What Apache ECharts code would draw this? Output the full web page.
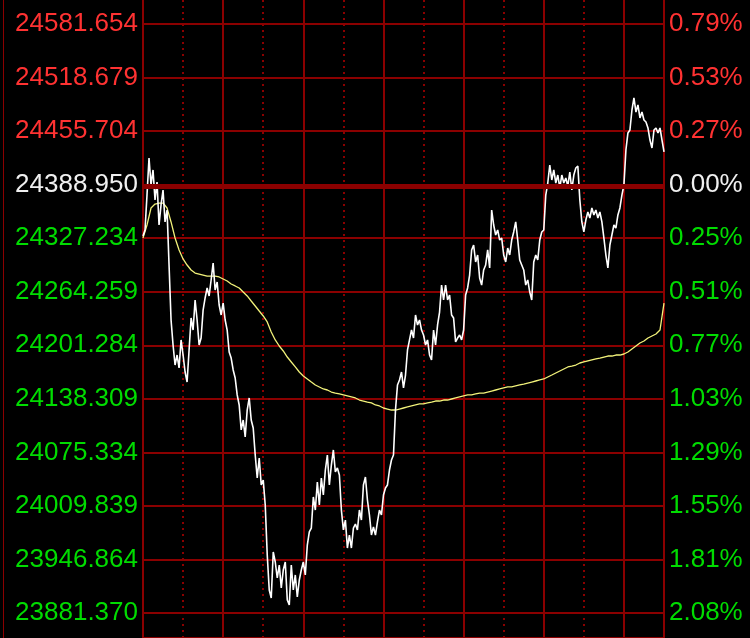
<!DOCTYPE html>
<html>
<head>
<meta charset="utf-8">
<script src="https://cdn.jsdelivr.net/npm/echarts@6/dist/echarts.min.js"></script>
<style>
html,body{margin:0;padding:0;background:#000;}
#wrap{position:relative;width:750px;height:638px;}
#chart{width:750px;height:638px;}
#edge{position:absolute;left:3px;top:0;width:1px;height:638px;background:#8b0000;}
</style>
</head>
<body>
<div id="wrap"><div id="chart"></div><div id="edge"></div></div>
<script>
// ---- data ----
const baseValue = 24388.950;
const axisMin = 23881.370;
const axisMax = 24581.654;
const leftTickLabels = ['24581.654','24518.679','24455.704','24388.950','24327.234','24264.259','24201.284','24138.309','24075.334','24009.839','23946.864','23881.370'];
const rightTickLabels = ['0.79%','0.53%','0.27%','0.00%','0.25%','0.51%','0.77%','1.03%','1.29%','1.55%','1.81%','2.08%'];

// price, sampled every 1.5 minutes from 09:30 to 16:00
const priceValues = [
24329.6,24336.7,24378.3,24422.3,24390.2,24408.1,24372.4,24393.8,24342.7,24366.5,
24384.3,24346.3,24360.5,24295.1,24229.7,24200.0,24176.2,24188.1,24172.7,24206.0,
24188.1,24167.9,24156.0,24194.1,24232.1,24217.8,24253.5,24229.7,24200.0,24208.3,
24241.6,24255.9,24267.8,24258.3,24277.3,24297.5,24265.4,24274.9,24247.6,24235.7,
24249.9,24229.7,24217.8,24191.7,24184.5,24170.3,24160.8,24140.6,24128.7,24099.0,
24110.8,24090.6,24122.7,24137.0,24110.8,24101.3,24069.2,24041.9,24065.7,24033.6,
24039.5,24009.8,23950.3,23908.7,23899.2,23953.9,23942.0,23923.0,23938.4,23911.1,
23932.5,23942.0,23896.8,23890.9,23938.4,23908.7,23926.6,23900.4,23920.6,23932.5,
23942.0,23926.6,23962.2,23977.7,23982.4,24019.3,24003.8,24037.1,24009.8,24041.9,
24021.7,24051.4,24069.2,24033.6,24057.3,24075.2,24049.0,24053.8,24045.4,24003.8,
23980.1,23991.9,23958.6,23974.1,23958.6,23982.4,23987.2,23980.1,24003.8,23991.9,
24033.6,24043.1,24015.7,23997.9,23974.1,23983.6,23974.1,23989.6,24003.8,23997.9,
24021.7,24030.0,24033.6,24051.4,24063.3,24069.2,24122.7,24152.5,24158.4,24167.9,
24148.9,24164.3,24194.1,24206.0,24217.8,24208.3,24235.7,24223.8,24229.7,24217.8,
24211.9,24200.0,24206.0,24188.1,24182.2,24217.8,24200.0,24223.8,24239.2,24271.3,
24253.5,24271.3,24253.5,24259.5,24235.7,24232.1,24203.6,24208.3,24211.9,24206.0,
24217.8,24259.5,24267.8,24283.2,24313.0,24318.9,24298.7,24307.0,24279.7,24271.3,
24289.2,24295.1,24313.0,24291.6,24360.5,24342.7,24330.8,24336.7,24324.8,24327.2,
24307.0,24298.7,24315.3,24307.0,24324.8,24334.4,24346.3,24324.8,24301.1,24295.1,
24289.2,24271.3,24277.3,24263.0,24253.5,24298.7,24307.0,24301.1,24324.8,24334.4,
24336.7,24378.3,24392.6,24414.0,24396.2,24408.1,24392.6,24402.1,24386.7,24402.1,
24392.6,24398.6,24389.1,24405.7,24384.3,24402.1,24410.5,24412.8,24372.4,24346.3,
24334.4,24348.6,24358.1,24351.0,24362.9,24354.6,24360.5,24351.0,24358.1,24346.3,
24327.2,24307.0,24291.6,24318.9,24330.8,24342.7,24339.1,24354.6,24362.9,24378.3,
24390.2,24431.9,24452.1,24455.6,24479.4,24493.7,24477.0,24485.4,24469.9,24477.0,
24467.5,24465.1,24458.0,24443.7,24434.2,24455.6,24458.0,24452.1,24458.0,24443.7,
24429.5
];

// average price, sampled every 3 minutes from 09:30 to 16:00
const avgValues = [
24327.2,24342.7,24362.9,24367.6,24368.8,24368.8,24362.9,24346.3,24327.2,24313.0,
24302.3,24295.1,24289.2,24285.6,24284.4,24283.2,24282.0,24282.0,24282.0,24280.9,
24278.5,24276.1,24272.5,24270.2,24267.8,24263.0,24258.3,24252.3,24246.4,24240.4,
24234.5,24227.4,24215.5,24206.0,24198.8,24192.9,24185.7,24179.8,24173.9,24167.9,
24163.2,24159.6,24156.0,24152.5,24150.1,24147.7,24146.5,24144.1,24142.9,24141.8,
24140.6,24139.4,24138.2,24137.0,24134.6,24133.4,24132.2,24131.1,24128.7,24127.5,
24125.1,24123.9,24122.7,24122.7,24123.9,24125.1,24126.3,24127.5,24128.7,24129.9,
24129.9,24131.1,24132.2,24133.4,24133.4,24134.6,24134.6,24135.8,24137.0,24138.2,
24139.4,24140.6,24140.6,24141.8,24142.9,24142.9,24144.1,24145.3,24146.5,24147.7,
24148.9,24150.1,24150.1,24151.3,24152.5,24153.6,24154.8,24156.0,24157.2,24158.4,
24159.6,24162.0,24164.3,24166.7,24169.1,24171.5,24173.9,24175.0,24176.2,24178.6,
24179.8,24181.0,24182.2,24183.4,24184.5,24185.7,24186.9,24186.9,24188.1,24188.1,
24189.3,24191.7,24195.3,24198.8,24202.4,24204.8,24208.3,24210.7,24213.1,24217.8,24249.9
];

const sessionMinutes = 390;
const priceStep = 1.5;
const avgStep = 3;
const priceData = priceValues.map((v, i) => [i * priceStep, v]);
const avgData = avgValues.map((v, i) => [i * avgStep, v]);

// ---- styles ----
const GRID = '#8b0000';
const RED = '#ff3232';
const GREEN = '#00dc00';
const NEUTRAL = '#f0f0f0';
const FONT = '"Liberation Sans", Arial, sans-serif';

function labelColor(value, index) {
  if (index < 3) return RED;
  if (index === 3) return NEUTRAL;
  return GREEN;
}

const chart = echarts.init(document.getElementById('chart'), null, {renderer: 'canvas'});
chart.setOption({
  backgroundColor: '#000',
  animation: false,
  grid: [
    {left: 143, top: 24, width: 521, height: 589},
    {left: 143, top: 0, width: 521, height: 638},
    {left: 143, top: 618, width: 521, height: 20}
  ],
  xAxis: [
    {gridIndex: 0, type: 'value', min: 0, max: sessionMinutes, show: false, splitLine: {show: false}},
    {gridIndex: 1, type: 'value', min: 0, max: sessionMinutes, interval: 30,
     axisLine: {show: false}, axisTick: {show: false}, axisLabel: {show: false},
     splitLine: {show: true, lineStyle: {color: GRID, width: 2, type: [2, 4]}}},
    {gridIndex: 1, type: 'value', min: 0, max: sessionMinutes, interval: 60, position: 'top',
     axisLine: {show: false}, axisTick: {show: false}, axisLabel: {show: false},
     splitLine: {show: true, lineStyle: {color: GRID, width: 2, type: 'solid'}}},
    {gridIndex: 2, type: 'value', min: 0, max: sessionMinutes, position: 'top',
     axisLine: {show: true, lineStyle: {color: GRID, width: 2}}, axisTick: {show: false},
     axisLabel: {show: false}, splitLine: {show: false}}
  ],
  yAxis: [
    {gridIndex: 0, type: 'value', min: axisMin, max: axisMax, show: false, splitLine: {show: false}},
    {gridIndex: 0, type: 'category', data: leftTickLabels, inverse: true, boundaryGap: false, position: 'left',
     axisLine: {show: false}, axisTick: {show: false},
     axisLabel: {interval: 0, margin: 5, fontSize: 26, fontFamily: FONT, color: labelColor},
     splitLine: {show: true, interval: 0, lineStyle: {color: GRID, width: 2}}},
    {gridIndex: 0, type: 'category', data: rightTickLabels, inverse: true, boundaryGap: false, position: 'right',
     axisLine: {show: false}, axisTick: {show: false},
     axisLabel: {interval: 0, margin: 5, fontSize: 26, fontFamily: FONT, color: labelColor},
     splitLine: {show: false}},
    {gridIndex: 1, type: 'value', min: 0, max: 1, show: false, splitLine: {show: false}},
    {gridIndex: 2, type: 'value', min: 0, max: 1, show: false, splitLine: {show: false}}
  ],
  series: [
    {type: 'line', xAxisIndex: 0, yAxisIndex: 0, data: avgData, symbol: 'none', z: 3,
     lineStyle: {color: '#f2f27a', width: 1.3}},
    {type: 'line', xAxisIndex: 0, yAxisIndex: 0, data: priceData, symbol: 'none', z: 4,
     lineStyle: {color: '#ffffff', width: 1.6},
     markLine: {silent: true, symbol: 'none', label: {show: false},
       lineStyle: {color: GRID, width: 5, type: 'solid'},
       data: [{yAxis: baseValue}]}}
  ]
});
</script>
</body>
</html>
